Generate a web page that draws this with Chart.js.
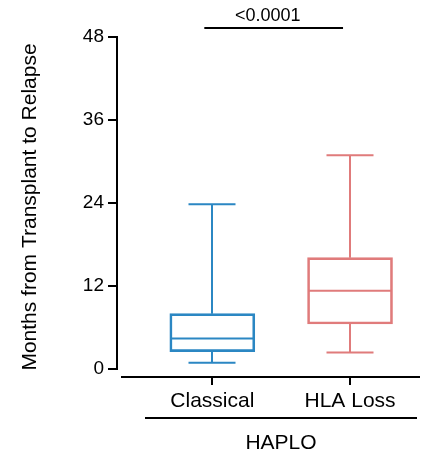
<!DOCTYPE html>
<html>
<head>
<meta charset="utf-8">
<script src="https://cdn.jsdelivr.net/npm/chart.js@4/dist/chart.umd.min.js"></script>
<style>
  html, body { margin: 0; padding: 0; background: #fff; }
  #wrap { width: 425px; height: 454px; }
</style>
</head>
<body>
<div id="wrap"><canvas id="c" width="425" height="454"></canvas></div>
<script>
const categories = ['Classical', 'HLA Loss'];
const mins    = [0.9, 2.4];
const q1s     = [2.5, 6.5];
const medians = [4.4, 11.3];
const q3s     = [8.0, 16.1];
const maxs    = [23.8, 30.9];
const yTicks  = [0, 12, 24, 36, 48];
const groupLabel = 'HAPLO';
const pLabel = '<0.0001';
const yTitle = 'Months from Transplant to Relapse';
const colors = ['#2b87c3', '#e07b7b'];

const FONT = "'Liberation Sans', Arial, sans-serif";

const boxPlugin = {
  id: 'boxExtras',
  afterDatasetsDraw(chart) {
    const ctx = chart.ctx;
    const xs = chart.scales.x, ys = chart.scales.y;
    const ca = chart.chartArea;
    ctx.save();
    ctx.lineWidth = 2;
    categories.forEach((c, i) => {
      const cx = Math.round(xs.getPixelForValue(i + 1));
      const half = 42.5, cap = 23.5;
      ctx.strokeStyle = colors[i];
      ctx.beginPath();
      ctx.moveTo(cx, ys.getPixelForValue(q3s[i]));
      ctx.lineTo(cx, ys.getPixelForValue(maxs[i]));
      ctx.moveTo(cx - cap, ys.getPixelForValue(maxs[i]));
      ctx.lineTo(cx + cap, ys.getPixelForValue(maxs[i]));
      ctx.moveTo(cx, ys.getPixelForValue(q1s[i]));
      ctx.lineTo(cx, ys.getPixelForValue(mins[i]));
      ctx.moveTo(cx - cap, ys.getPixelForValue(mins[i]));
      ctx.lineTo(cx + cap, ys.getPixelForValue(mins[i]));
      ctx.moveTo(cx - half + 1, ys.getPixelForValue(medians[i]));
      ctx.lineTo(cx + half - 1, ys.getPixelForValue(medians[i]));
      ctx.stroke();
    });
    ctx.strokeStyle = '#000';
    ctx.beginPath();
    const ax = ca.left;
    ctx.moveTo(ax, ys.getPixelForValue(yTicks[yTicks.length - 1]) - 1);
    ctx.lineTo(ax, ys.getPixelForValue(yTicks[0]) + 1);
    ctx.moveTo(ca.left + 4, ca.bottom);
    ctx.lineTo(ca.right, ca.bottom);
    ctx.stroke();
    const x1 = xs.getPixelForValue(1) - 8, x2 = xs.getPixelForValue(2) - 7;
    const sy = ca.top - 9;
    ctx.beginPath();
    ctx.moveTo(x1, sy);
    ctx.lineTo(x2, sy);
    ctx.stroke();
    ctx.fillStyle = '#000';
    ctx.font = '18px ' + FONT;
    ctx.textAlign = 'center';
    ctx.textBaseline = 'alphabetic';
    ctx.fillText(pLabel, (x1 + x2) / 2 - 6, sy - 7);
    ctx.beginPath();
    ctx.moveTo(145, ca.bottom + 41);
    ctx.lineTo(417, ca.bottom + 41);
    ctx.stroke();
    ctx.font = '21px ' + FONT;
    ctx.fillText(groupLabel, 281, ca.bottom + 72);
    ctx.restore();
  }
};

new Chart(document.getElementById('c'), {
  type: 'bar',
  data: {
    datasets: [{
      data: categories.map((c, i) => ({ x: i + 1, y: [q1s[i], q3s[i]] })),
      backgroundColor: 'rgba(0,0,0,0)',
      borderColor: colors,
      borderWidth: 2,
      borderSkipped: false,
      barThickness: 85
    }]
  },
  options: {
    responsive: false,
    animation: false,
    events: [],
    layout: { padding: { top: 37, left: 16, right: 5, bottom: 0 } },
    plugins: { legend: { display: false }, tooltip: { enabled: false } },
    scales: {
      x: {
        type: 'linear',
        offset: false,
        min: 0.308,
        max: 2.508,
        afterBuildTicks: s => { s.ticks = [{ value: 1 }, { value: 2 }]; },
        afterFit: s => { s.height = 77; },
        ticks: {
          autoSkip: false, maxRotation: 0, padding: 4,
          color: '#000', font: { family: FONT, size: 21 },
          callback: (v, i) => categories[i]
        },
        grid: { display: true, offset: false, drawOnChartArea: false, drawTicks: true, tickLength: 8, color: '#000', lineWidth: 2 },
        border: { display: false }
      },
      y: {
        min: -1.16,
        max: 48,
        afterBuildTicks: s => { s.ticks = yTicks.map(v => ({ value: v })); },
        afterFit: s => { s.width = 101; },
        ticks: { padding: 4, color: '#000', font: { family: FONT, size: 19 } },
        grid: { display: true, drawOnChartArea: false, drawTicks: true, tickLength: 9, color: '#000', lineWidth: 2 },
        border: { display: false },
        title: { display: true, text: yTitle, color: '#000', font: { family: FONT, size: 21 }, padding: { top: 2, bottom: 0 } }
      }
    }
  },
  plugins: [boxPlugin]
});
</script>
</body>
</html>
